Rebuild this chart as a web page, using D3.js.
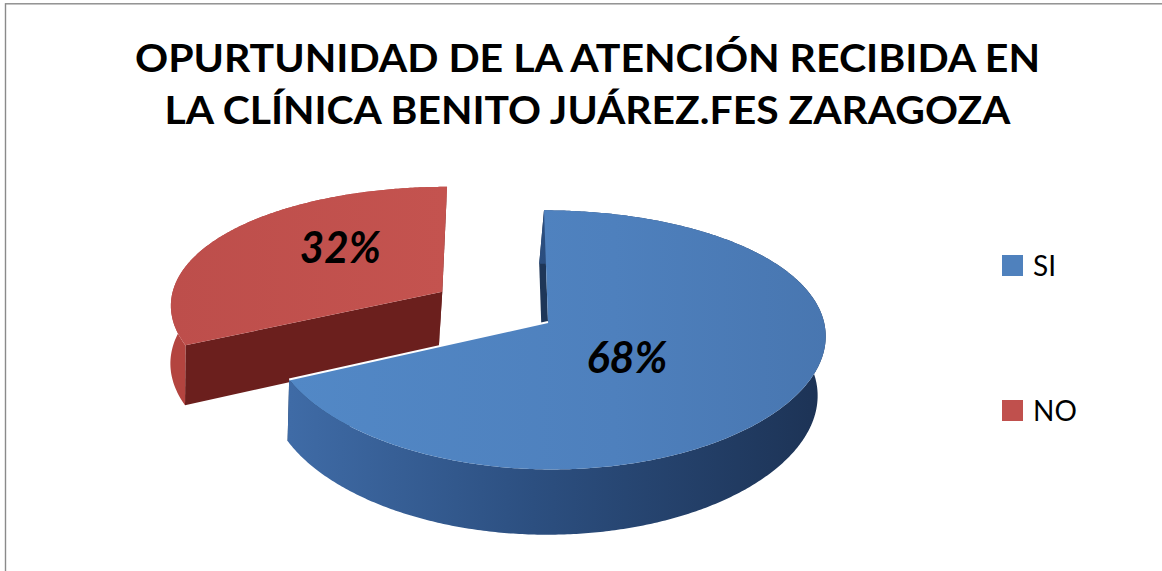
<!DOCTYPE html>
<html>
<head>
<meta charset="utf-8">
<script src="https://cdn.jsdelivr.net/npm/d3@7"></script>
<style>
  body { margin: 0; background: #fff; }
  svg { display: block; }
</style>
</head>
<body>
<script>
// data
const categories = ["SI", "NO"];
const values = [68, 32];
const pctLabels = ["68%", "32%"];
const explode = [0, 0.46];
const titleLines = ["OPURTUNIDAD DE LA ATENCIÓN RECIBIDA EN", "LA CLÍNICA BENITO JUÁREZ.FES ZARAGOZA"];

const W = 1162, H = 571;
const svg = d3.select("body").append("svg").attr("width", W).attr("height", H);

// chart frame (only top and left edges show)
svg.append("rect")
  .attr("x", 5.5).attr("y", 3.8)
  .attr("width", W + 20).attr("height", H + 20)
  .attr("fill", "#fff").attr("stroke", "#8a8a8a").attr("stroke-width", 1.4);

// title
const title = svg.append("g")
  .attr("font-family", "Lato, 'Open Sans', sans-serif")
  .attr("font-weight", 700).attr("font-size", 38)
  .attr("text-anchor", "middle").attr("fill", "#000");
const titleLen = [905, 846];
titleLines.forEach((t, i) => {
  title.append("text")
    .attr("x", 587.5).attr("y", 72 + i * 52)
    .attr("textLength", titleLen[i]).attr("lengthAdjust", "spacingAndGlyphs")
    .text(t);
});

// a tilted disc seen from above, with a bit of perspective
const cam = { cx: 548, cy: 322, D: 6.46, cE: 0.891, sE: 0.454, kx: 276, p: 0.7, A: 127.1, B: 249.5, sh: -4, q: 20 };
const thick = 0.24;

function proj(X, Y, Z) {
  const depth = cam.D + cam.cE * Y - cam.sE * Z;
  const f = cam.D / depth;
  return [
    cam.cx + cam.kx * X * Math.pow(f, cam.p) + cam.sh * Y + cam.q * Z,
    cam.cy - (cam.A * Y + cam.B * Z) * f
  ];
}

const arcs = d3.pie().sort(null).value(d => d)(values).map((a, i) => {
  const mid = (a.startAngle + a.endAngle) / 2;
  return {
    i: i, a0: a.startAngle, a1: a.endAngle, mid: mid,
    ox: explode[i] * Math.sin(mid), oy: explode[i] * Math.cos(mid)
  };
});

function rimPts(s, a0, a1, z) {
  const n = Math.max(2, Math.ceil(Math.abs(a1 - a0) / 0.01));
  return d3.range(n + 1).map(k => {
    const t = a0 + (a1 - a0) * k / n;
    return proj(s.ox + Math.sin(t), s.oy + Math.cos(t), z);
  });
}
const rimAt = (s, a, z) => proj(s.ox + Math.sin(a), s.oy + Math.cos(a), z);
const apex = (s, z) => proj(s.ox, s.oy, z);
const line = d3.line();
const closed = pts => line(pts) + "Z";

// gradients
const defs = svg.append("defs");
function grad(id, x1, x2, stops) {
  const g = defs.append("linearGradient").attr("id", id)
    .attr("gradientUnits", "userSpaceOnUse")
    .attr("x1", x1).attr("x2", x2).attr("y1", 0).attr("y2", 0);
  stops.forEach(s => g.append("stop").attr("offset", s[0]).attr("stop-color", s[1]));
}
grad("topSI", 290, 830, [[0, "#5288c6"], [0.6, "#4e80bd"], [1, "#4876b0"]]);
grad("sideSI", 290, 830, [[0, "#3f6ba6"], [0.45, "#2c4f80"], [1, "#1c3254"]]);
grad("topNO", 170, 445, [[0, "#bd4e4b"], [1, "#c4534f"]]);

const style = [
  { top: "url(#topSI)", side: "url(#sideSI)", wall: "#1e3658" },
  { top: "url(#topNO)", side: "#b3443f", wall: "#6b1f1d" }
];

// the exploded slice is behind, draw it first
const order = arcs.slice().sort((a, b) => b.oy - a.oy);
const pie = svg.append("g");
order.forEach(s => {
  const st = style[s.i];
  const g = pie.append("g").attr("class", "slice");
  [s.a1, s.a0].forEach(a => {
    const w = [apex(s, 0), rimAt(s, a, 0), rimAt(s, a, -thick), apex(s, -thick)];
    g.append("path").attr("d", closed(w)).attr("fill", st.wall);
  });
  const side = rimPts(s, s.a0, s.a1, 0).concat(rimPts(s, s.a1, s.a0, -thick));
  g.append("path").attr("d", closed(side)).attr("fill", st.side);
  const top = [apex(s, 0)].concat(rimPts(s, s.a0, s.a1, 0));
  g.append("path").attr("d", closed(top)).attr("fill", st.top);
  if (explode[s.i] === 0) {
    // light edge where the front slice meets the exploded one
    g.append("path").attr("d", line([apex(s, 0), rimAt(s, s.a1, 0)]))
      .attr("stroke", "#fff").attr("stroke-width", 2).attr("fill", "none");
  }
});

// percentage labels
const lab = [{ shift: 0.21, r: 0.385 }, { shift: 0.21, r: 0.56 }];
arcs.forEach(s => {
  const t = s.mid + lab[s.i].shift, r = lab[s.i].r;
  const pt = proj(s.ox + r * Math.sin(t), s.oy + r * Math.cos(t), 0);
  svg.append("text")
    .attr("x", pt[0]).attr("y", pt[1]).attr("dy", "0.36em")
    .attr("text-anchor", "middle")
    .attr("font-family", "Lato, 'Open Sans', sans-serif")
    .attr("font-weight", 700).attr("font-style", "italic").attr("font-size", 44)
    .attr("textLength", 81).attr("lengthAdjust", "spacingAndGlyphs")
    .attr("fill", "#000")
    .text(pctLabels[s.i]);
});

// legend
const legColors = ["#4f81bd", "#c0504d"];
const leg = svg.append("g").attr("transform", "translate(1002,255)");
categories.forEach((c, i) => {
  const row = leg.append("g").attr("transform", `translate(0,${i * 145})`);
  row.append("rect").attr("width", 21).attr("height", 21).attr("fill", legColors[i]);
  row.append("text").attr("x", 31).attr("y", 21)
    .attr("font-family", "Lato, 'Open Sans', sans-serif").attr("font-size", 28)
    .attr("fill", "#000").text(c);
});
</script>
</body>
</html>
